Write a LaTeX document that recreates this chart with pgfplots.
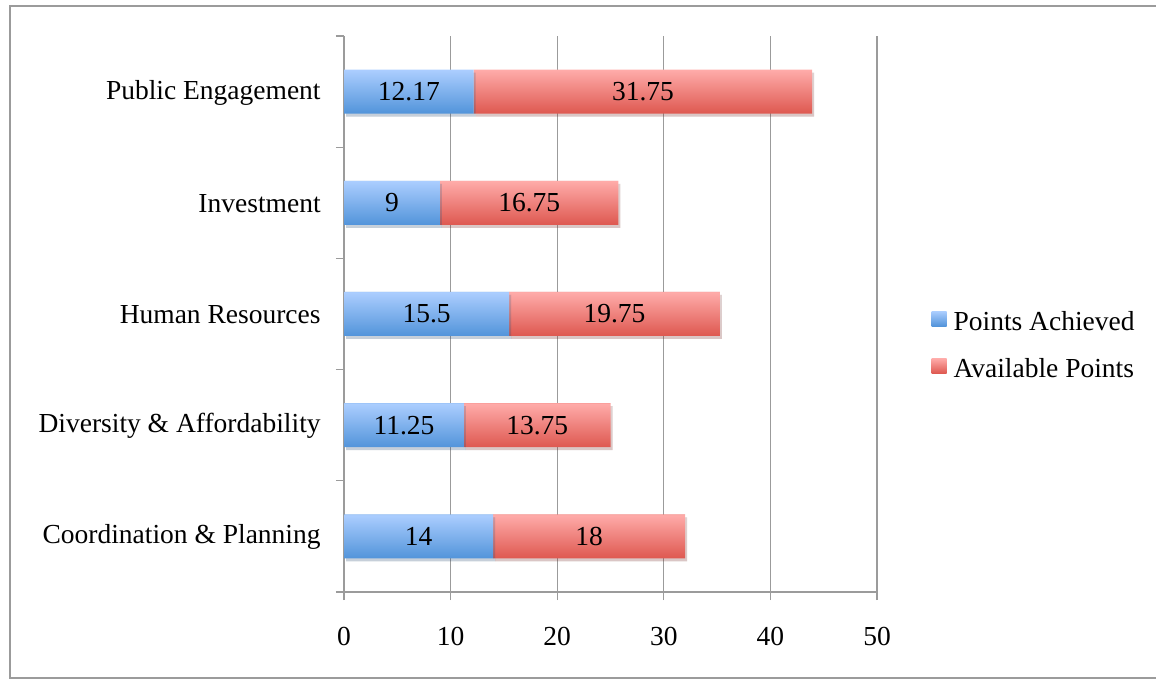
\documentclass[border=0pt]{standalone}
\usepackage{pgfplots}
\pgfplotsset{compat=1.18}
\usepackage{pgfplotstable}
\usepackage{fontspec}
\setmainfont{Liberation Serif}
\usetikzlibrary{shadows}
\definecolor{blueT}{RGB}{172,206,255}
\definecolor{blueB}{RGB}{82,148,218}
\definecolor{redT}{RGB}{255,172,170}
\definecolor{redB}{RGB}{222,88,80}
\definecolor{gridc}{RGB}{155,155,155}
% one gradient per bar: the bar path spans 5 bars, 111.2pt apart, 44pt thick
\pgfdeclareverticalshading{blueBars}{100bp}{%
  color(0bp)=(blueB); color(25bp)=(blueB); color(29.50bp)=(blueT);
  color(29.60bp)=(blueB); color(36.37bp)=(blueB); color(40.88bp)=(blueT);
  color(40.98bp)=(blueB); color(47.75bp)=(blueB); color(52.25bp)=(blueT);
  color(52.35bp)=(blueB); color(59.12bp)=(blueB); color(63.63bp)=(blueT);
  color(63.73bp)=(blueB); color(70.50bp)=(blueB); color(75bp)=(blueT);
  color(100bp)=(blueT)}
\pgfdeclareverticalshading{redBars}{100bp}{%
  color(0bp)=(redB); color(25bp)=(redB); color(29.50bp)=(redT);
  color(29.60bp)=(redB); color(36.37bp)=(redB); color(40.88bp)=(redT);
  color(40.98bp)=(redB); color(47.75bp)=(redB); color(52.25bp)=(redT);
  color(52.35bp)=(redB); color(59.12bp)=(redB); color(63.63bp)=(redT);
  color(63.73bp)=(redB); color(70.50bp)=(redB); color(75bp)=(redT);
  color(100bp)=(redT)}
\pgfdeclareverticalshading{legBlue}{100bp}{color(0bp)=(blueB); color(25bp)=(blueB); color(75bp)=(blueT); color(100bp)=(blueT)}
\pgfdeclareverticalshading{legRed}{100bp}{color(0bp)=(redB); color(25bp)=(redB); color(75bp)=(redT); color(100bp)=(redT)}
\pgfplotstableread{
pos achieved avail
0 14 18
1 11.25 13.75
2 15.5 19.75
3 9 16.75
4 12.17 31.75
}\data
\begin{document}
\fontsize{27.5}{33}\selectfont
\begin{tikzpicture}[x=1pt,y=1pt]
\path[use as bounding box] (0,0) rectangle (1156,680);
\draw[gridc, line width=1.5pt] (10,2) rectangle (1160,674);
\begin{axis}[
  at={(344pt,88pt)}, anchor=south west,
  scale only axis, width=533pt, height=556pt,
  xbar stacked, bar width=44pt,
  xmin=0, xmax=50, ymin=-0.5, ymax=4.5,
  xtick={0,10,...,50},
  ytick={0,...,4},
  yticklabels={Coordination \& Planning, Diversity \& Affordability, Human Resources, Investment, Public Engagement},
  minor ytick={-0.5,0.5,...,4.5},
  xmajorgrids, major grid style={gridc, line width=1.2pt},
  axis line style={gridc, line width=1.2pt},
  axis x line*=bottom, axis y line*=left,
  major y tick style={draw=none},
  minor y tick style={gridc, line width=1.2pt},
  major x tick style={gridc, line width=1.2pt},
  tick align=outside,
  major tick length=8pt, minor tick length=8pt,
  /pgf/number format/assume math mode=true,
  xticklabel style={yshift=-18pt},
  yticklabel style={xshift=-6pt, yshift=-1pt},
  point meta=explicit symbolic,
  nodes near coords,
  every node near coord/.append style={anchor=center, text=black},
  legend style={at={(1.102,0.442)}, anchor=west, draw=none, fill=none, inner sep=0pt, row sep=24pt,
    nodes={inner sep=0pt}, /tikz/every odd column/.append style={column sep=7pt}},
  legend cell align=left,
]
\addplot[draw=none, shade, shading=blueBars,
  drop shadow={shadow xshift=2pt, shadow yshift=-3pt, opacity=0.15, fill=black},
  legend image code/.code={\pgfpathrectangle{\pgfpoint{0pt}{-3.5pt}}{\pgfpoint{15pt}{15pt}}\pgfshadepath{legBlue}{0}\pgfusepath{discard}}]
  table[x=achieved, y=pos, meta=achieved] \data;
\addplot[draw=none, shade, shading=redBars,
  drop shadow={shadow xshift=2pt, shadow yshift=-3pt, opacity=0.15, fill=black},
  legend image code/.code={\pgfpathrectangle{\pgfpoint{0pt}{-3.5pt}}{\pgfpoint{15pt}{15pt}}\pgfshadepath{legRed}{0}\pgfusepath{discard}}]
  table[x=avail, y=pos, meta=avail] \data;
\legend{Points Achieved, Available Points}
\end{axis}
\end{tikzpicture}
\end{document}
